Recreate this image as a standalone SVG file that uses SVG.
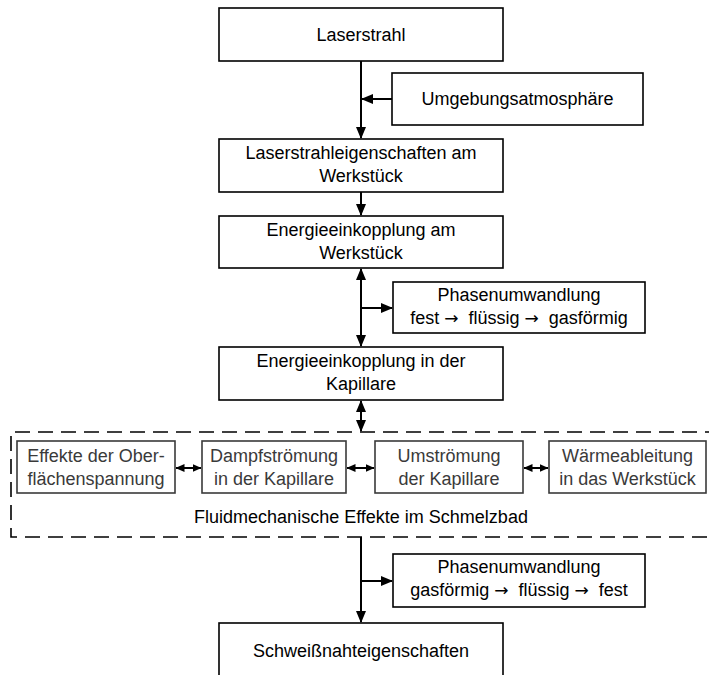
<svg xmlns="http://www.w3.org/2000/svg" width="709" height="675" viewBox="0 0 709 675">
<defs>
<marker id="ah" markerUnits="userSpaceOnUse" markerWidth="12" markerHeight="10" viewBox="0 0 12 10" refX="11" refY="5" orient="auto-start-reverse">
<path d="M0,0 L12,5 L0,10 Z" fill="#000"/>
</marker>
<marker id="ahs" markerUnits="userSpaceOnUse" markerWidth="9" markerHeight="8" viewBox="0 0 9 8" refX="8.5" refY="4" orient="auto-start-reverse">
<path d="M0,0 L9,4 L0,8 Z" fill="#000"/>
</marker>
<style>
.box{fill:#fff;stroke:#000;stroke-width:1.6}
.ibox{fill:#fff;stroke:#3a3a3a;stroke-width:1.6}
.t{font-family:"Liberation Sans",Arial,sans-serif;font-size:18px;fill:#000;text-anchor:middle}
.it{font-family:"Liberation Sans",Arial,sans-serif;font-size:18px;fill:#3a3a3a;text-anchor:middle}
.pre{white-space:pre}
.ar{font-family:"DejaVu Sans",sans-serif;font-size:17px}
.c{stroke:#000;stroke-width:2;fill:none}
.dash{fill:none;stroke:#000;stroke-width:1.6;stroke-dasharray:15 8}
</style>
</defs>

<g id="fluid-group">
<path class="dash" d="M720,432 H11 V537 H720"/>
<text class="t" x="361" y="523">Fluidmechanische Effekte im Schmelzbad</text>
</g>

<g id="connectors">
<line class="c" x1="361" y1="61" x2="361" y2="138" marker-end="url(#ah)"/>
<line class="c" x1="392" y1="99" x2="362" y2="99" marker-end="url(#ah)"/>
<line class="c" x1="361" y1="192" x2="361" y2="215" marker-end="url(#ah)"/>
<line class="c" x1="361" y1="269" x2="361" y2="346" marker-start="url(#ah)" marker-end="url(#ah)"/>
<line class="c" x1="361" y1="308" x2="392" y2="308" marker-end="url(#ah)"/>
<line class="c" x1="361" y1="401" x2="361" y2="431" marker-start="url(#ah)" marker-end="url(#ah)"/>
<line class="c" x1="176" y1="468" x2="201" y2="468" marker-start="url(#ahs)" marker-end="url(#ahs)"/>
<line class="c" x1="347" y1="468" x2="374" y2="468" marker-start="url(#ahs)" marker-end="url(#ahs)"/>
<line class="c" x1="524" y1="468" x2="548" y2="468" marker-start="url(#ahs)" marker-end="url(#ahs)"/>
<line class="c" x1="361" y1="537" x2="361" y2="622" marker-end="url(#ah)"/>
<line class="c" x1="361" y1="581" x2="392" y2="581" marker-end="url(#ah)"/>
</g>

<g id="laserstrahl">
<rect class="box" x="219" y="8" width="284" height="53"/>
<text class="t" x="361" y="41">Laserstrahl</text>
</g>

<g id="umgebung">
<rect class="box" x="392" y="73" width="251" height="52"/>
<text class="t" x="517.5" y="105">Umgebungsatmosphäre</text>
</g>

<g id="laserstrahleigenschaften">
<rect class="box" x="219" y="139" width="284" height="53"/>
<text class="t" x="361" y="159">Laserstrahleigenschaften am</text>
<text class="t" x="361" y="182">Werkstück</text>
</g>

<g id="energie-werkstueck">
<rect class="box" x="219" y="216" width="284" height="52"/>
<text class="t" x="361" y="236">Energieeinkopplung am</text>
<text class="t" x="361" y="259">Werkstück</text>
</g>

<g id="phase1">
<rect class="box" x="393" y="282" width="252" height="51"/>
<text class="t" x="519" y="301">Phasenumwandlung</text>
<text class="t pre" x="519" y="324">fest <tspan class="ar">→</tspan>  flüssig <tspan class="ar">→</tspan>  gasförmig</text>
</g>

<g id="energie-kapillare">
<rect class="box" x="219" y="347" width="284" height="53"/>
<text class="t" x="361" y="367">Energieeinkopplung in der</text>
<text class="t" x="361" y="390">Kapillare</text>
</g>

<g id="oberflaeche">
<rect class="ibox" x="17" y="441" width="158" height="52"/>
<text class="it" x="96" y="462">Effekte der Ober-</text>
<text class="it" x="96" y="485">flächenspannung</text>
</g>

<g id="dampf">
<rect class="ibox" x="202" y="441" width="144" height="52"/>
<text class="it" x="274" y="462">Dampfströmung</text>
<text class="it" x="274" y="485">in der Kapillare</text>
</g>

<g id="umstroemung">
<rect class="ibox" x="375" y="441" width="148" height="52"/>
<text class="it" x="449" y="462">Umströmung</text>
<text class="it" x="449" y="485">der Kapillare</text>
</g>

<g id="waerme">
<rect class="ibox" x="549" y="441" width="157" height="52"/>
<text class="it" x="627.5" y="462">Wärmeableitung</text>
<text class="it" x="627.5" y="485">in das Werkstück</text>
</g>

<g id="phase2">
<rect class="box" x="393" y="554" width="252" height="53"/>
<text class="t" x="519" y="573">Phasenumwandlung</text>
<text class="t pre" x="519" y="596">gasförmig <tspan class="ar">→</tspan>  flüssig <tspan class="ar">→</tspan>  fest</text>
</g>

<g id="schweissnaht">
<rect class="box" x="219" y="623" width="284" height="62"/>
<text class="t" x="361" y="657">Schweißnahteigenschaften</text>
</g>
</svg>
